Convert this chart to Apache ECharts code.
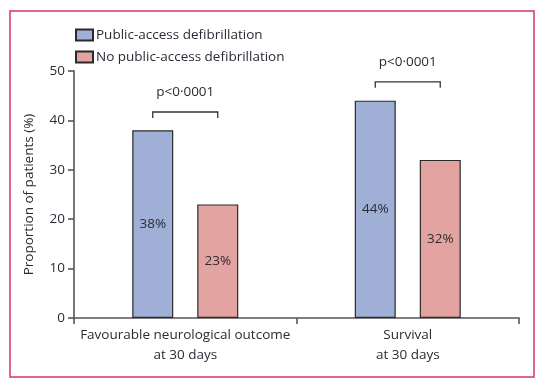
<!DOCTYPE html>
<html><head><meta charset="utf-8">
<script src="https://cdn.jsdelivr.net/npm/echarts@6/dist/echarts.min.js"></script>
<style>html,body{margin:0;padding:0;background:#fff}#c{width:542px;height:385px}</style>
</head><body><div id="c"></div>
<script>
var categories = ['Favourable neurological outcome\nat 30 days', 'Survival\nat 30 days'];
var seriesNames = ['Public-access defibrillation', 'No public-access defibrillation'];
var pad = [38, 44];
var noPad = [23, 32];
var yTicks = [0, 10, 20, 30, 40, 50];
var pLabels = ['p<0·0001', 'p<0·0001'];
var bracketY = [41.7, 47.8];

var FONT = '"Open Sans", "Noto Sans", sans-serif';
var TXT = '#2b2b36';
var AX = '#555';
var BW = 41, GAP = 24;

var chart = echarts.init(document.getElementById('c'));
chart.setOption({
  animation: false,
  textStyle: {fontFamily: FONT},
  graphic: [{type: 'rect', shape: {x: 10, y: 11, width: 524, height: 366}, style: {fill: 'none', stroke: '#d4336e', lineWidth: 1.5}, silent: true}],
  legend: {
    orient: 'vertical', left: 70, top: 23, itemWidth: 17, itemHeight: 11, itemGap: 8,
    textStyle: {fontFamily: FONT, fontSize: 13.5, color: TXT, padding: [0, 0, 0, -2]},
    data: seriesNames.map(function (n) { return {name: n, icon: 'rect'}; })
  },
  grid: {left: 74, right: 23, top: 71, bottom: 67, containLabel: false},
  xAxis: {
    type: 'category', data: categories,
    axisLine: {lineStyle: {color: AX, width: 1.6}},
    axisTick: {show: true, length: 6, lineStyle: {color: AX, width: 1.6}},
    axisLabel: {interval: 0, fontFamily: FONT, fontSize: 13.5, color: TXT, lineHeight: 20, margin: 7}
  },
  yAxis: {
    type: 'value', min: 0, max: 50, interval: 10,
    name: 'Proportion of patients (%)', nameLocation: 'middle', nameGap: 38,
    nameTextStyle: {fontFamily: FONT, fontSize: 13.5, color: TXT},
    axisLine: {show: true, lineStyle: {color: AX, width: 1.6}},
    axisTick: {show: true, length: 6, lineStyle: {color: AX, width: 1.6}},
    axisLabel: {fontFamily: FONT, fontSize: 13.5, color: TXT, margin: 9,
      formatter: function (v) { return yTicks.indexOf(v) >= 0 ? String(v) : ''; }},
    splitLine: {show: false}
  },
  series: [
    {name: seriesNames[0], type: 'bar', data: pad, barWidth: BW, barGap: (GAP / BW * 100) + '%',
      itemStyle: {color: '#9fafd6', borderColor: '#2a2a2a', borderWidth: 1.2},
      label: {show: true, position: 'inside', formatter: '{c}%', color: TXT, fontFamily: FONT, fontSize: 13.5}},
    {name: seriesNames[1], type: 'bar', data: noPad, barWidth: BW,
      itemStyle: {color: '#e3a3a0', borderColor: '#2a2a2a', borderWidth: 1.2},
      label: {show: true, position: 'inside', formatter: '{c}%', color: TXT, fontFamily: FONT, fontSize: 13.5}},
    {type: 'custom', silent: true, z: 10,
      data: bracketY.map(function (y, i) { return [i, y]; }),
      renderItem: function (params, api) {
        var i = api.value(0), y = api.value(1);
        var c = api.coord([i, y]);
        var off = (BW + GAP) / 2;
        var x1 = c[0] - off, x2 = c[0] + off, yy = c[1];
        var drop = 6;
        return {type: 'group', children: [
          {type: 'polyline', shape: {points: [[x1, yy + drop], [x1, yy], [x2, yy], [x2, yy + drop]]},
            style: {stroke: '#333', lineWidth: 1.3, fill: 'none'}},
          {type: 'text', x: c[0], y: yy - 20, style: {text: pLabels[i], fill: TXT, font: '13.5px ' + FONT, textAlign: 'center', textVerticalAlign: 'middle'}}
        ]};
      }}
  ]
});
</script></body></html>
